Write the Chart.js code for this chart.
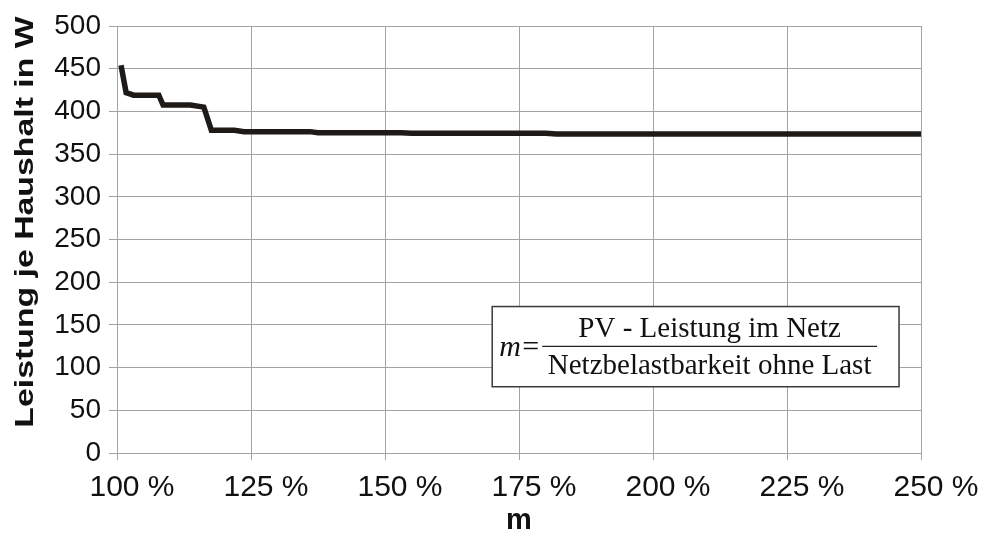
<!DOCTYPE html>
<html lang="de">
<head>
  <meta charset="UTF-8" />
  <title>Leistung je Haushalt</title>
  <script src="https://cdn.jsdelivr.net/npm/chart.js"></script>
  <style>
    body {
      margin: 0;
      background: #ffffff;
      overflow: hidden;
    }
    #wrap {
      width: 981px;
      height: 538px;
    }
  </style>
</head>
<body>
  <div id="wrap"><canvas id="chart"></canvas></div>

  <script>
    // m in Prozent und die zugehoerige Leistung je Haushalt (W)
    const mWerte = [100.75, 101.7, 103.1, 107.8, 108.6, 113.7, 116.2, 117.6, 121.9, 123.7, 136, 137.5, 153, 155, 180, 182, 250];
    const leistung = [454, 422, 419, 419, 407.5, 407.5, 405, 378, 378, 376.3, 376.3, 375.1, 375.1, 374.4, 374.4, 373.6, 373.6];
    const xTicks = [100, 125, 150, 175, 200, 225, 250];
    const yTicks = [0, 50, 100, 150, 200, 250, 300, 350, 400, 450, 500];

    const yTitel = "Leistung je Haushalt in W";
    const formelZaehler = "PV - Leistung im Netz";
    const formelNenner = "Netzbelastbarkeit ohne Last";

    const gitter = "#a3a3a3";
    const schrift = "#111111";

    // y-Achsentitel, in Laengsrichtung etwas gestreckt
    const yTitelPlugin = {
      id: "yTitel",
      afterDraw(chart) {
        const { ctx } = chart;
        ctx.save();
        ctx.translate(26, 222);
        ctx.rotate(-Math.PI / 2);
        ctx.scale(1.3, 1);
        ctx.font = "bold 26px 'Liberation Sans'";
        ctx.fillStyle = schrift;
        ctx.textAlign = "center";
        ctx.textBaseline = "middle";
        ctx.fillText(yTitel, 0, 0);
        ctx.restore();
      }
    };

    // Kasten mit der Definition von m
    const formelPlugin = {
      id: "formel",
      afterDraw(chart) {
        const { ctx, scales } = chart;
        const x0 = scales.x.getPixelForValue(170);
        const x1 = scales.x.getPixelForValue(245.9);
        const y0 = scales.y.getPixelForValue(171.5);
        const y1 = scales.y.getPixelForValue(77.6);
        ctx.save();
        ctx.fillStyle = "#ffffff";
        ctx.fillRect(x0, y0, x1 - x0, y1 - y0);
        ctx.strokeStyle = "#3a3a3a";
        ctx.lineWidth = 1.5;
        ctx.strokeRect(x0, y0, x1 - x0, y1 - y0);

        const mitte = (y0 + y1) / 2;
        ctx.fillStyle = schrift;
        ctx.textBaseline = "alphabetic";
        ctx.textAlign = "left";
        ctx.font = "italic 30px 'Liberation Serif'";
        ctx.fillText("m", x0 + 7, mitte + 9);
        ctx.font = "30px 'Liberation Serif'";
        ctx.fillText("=", x0 + 30, mitte + 9);

        const bx0 = x0 + 50;
        const bx1 = x1 - 22;
        ctx.strokeStyle = "#222222";
        ctx.lineWidth = 1.3;
        ctx.beginPath();
        ctx.moveTo(bx0, mitte - 0.3);
        ctx.lineTo(bx1, mitte - 0.3);
        ctx.stroke();

        ctx.font = "29px 'Liberation Serif'";
        ctx.textAlign = "center";
        const bm = (bx0 + bx1) / 2;
        ctx.fillText(formelZaehler, bm, mitte - 9.5);
        ctx.fillText(formelNenner, bm, mitte + 27.5);
        ctx.restore();
      }
    };

    new Chart(document.getElementById("chart"), {
      type: "line",
      data: {
        datasets: [{
          data: mWerte.map((m, i) => ({ x: m, y: leistung[i] })),
          borderColor: "#1e1a17",
          borderWidth: 5.5,
          pointRadius: 0,
          tension: 0,
          fill: false
        }]
      },
      options: {
        responsive: true,
        maintainAspectRatio: false,
        animation: false,
        layout: { padding: { top: 26, right: 60, left: 0, bottom: 0 } },
        plugins: {
          legend: { display: false },
          tooltip: { enabled: false }
        },
        scales: {
          x: {
            type: "linear",
            min: 100,
            max: 250,
            afterBuildTicks: (axis) => { axis.ticks = xTicks.map(v => ({ value: v })); },
            afterFit: (axis) => { axis.height = 85; },
            grid: { color: gitter, lineWidth: 1, tickLength: 7, drawTicks: true },
            border: { color: gitter, width: 1 },
            ticks: {
              color: schrift,
              font: { family: "'Liberation Sans'", size: 30 },
              padding: 10,
              labelOffset: 15,
              maxRotation: 0,
              autoSkip: false,
              callback: (v) => v + " %"
            },
            title: {
              display: true,
              text: "m",
              color: schrift,
              font: { family: "'Liberation Sans'", size: 29, weight: "bold" },
              padding: { top: 0, bottom: 0 }
            }
          },
          y: {
            min: 0,
            max: 500,
            afterBuildTicks: (axis) => { axis.ticks = yTicks.map(v => ({ value: v })); },
            afterFit: (axis) => { axis.width = 117; },
            grid: { color: gitter, lineWidth: 1, tickLength: 8, drawTicks: true },
            border: { color: gitter, width: 1 },
            ticks: {
              color: schrift,
              font: { family: "'Liberation Sans'", size: 28 },
              padding: 8
            }
          }
        }
      },
      plugins: [yTitelPlugin, formelPlugin]
    });
  </script>
</body>
</html>
